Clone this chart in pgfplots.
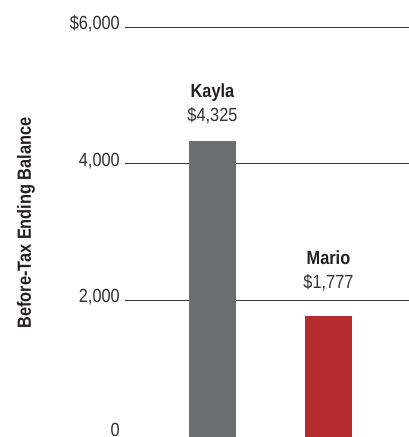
\documentclass[border=0pt]{standalone}
\usepackage{pgfplots}
\pgfplotsset{compat=1.18}
\usepackage{fontspec}
\setmainfont{Liberation Sans}[FakeStretch=0.86]
\definecolor{barGray}{HTML}{6D6E71}
\definecolor{barRed}{HTML}{B52B30}
\definecolor{txt}{HTML}{231F20}
\begin{document}
\begin{tikzpicture}
\begin{axis}[
  scale only axis, width=284pt, height=410pt,
  at={(0pt,0pt)}, anchor=south west,
  xmin=-0.754, xmax=1.694, ymin=0, ymax=6000,
  axis line style={draw=none},
  xtick=\empty,
  ytick={2000,4000,6000},
  yticklabels={{2,000},{4,000},{\$6,000}},
  extra y ticks={0}, extra y tick labels={0},
  extra y tick style={grid=none, yticklabel style={yshift=4pt}},
  ymajorgrids,
  major grid style={color=black!78, line width=0.9pt},
  major tick length=0pt,
  yticklabel style={font=\fontsize{19}{22}\selectfont, text=black!82, yshift=3pt, inner sep=5pt},
  ylabel={Before-Tax Ending Balance},
  ylabel style={font=\bfseries\fontsize{19}{22}\selectfont, text=txt, at={(axis description cs:-0.3486,0.522)}, anchor=center},
  ybar, bar width=47pt, bar shift=0pt,
  clip=false,
]
\addplot[ybar, bar shift=0pt, fill=barGray, draw=none,
  nodes near coords={\textbf{\color{txt}Kayla}\\\$4,325},
  every node near coord/.append style={align=center, anchor=south, inner sep=0pt, yshift=17pt, font=\fontsize{19}{24}\selectfont, text=black!80}]
  coordinates {(0,4325)};
\addplot[ybar, bar shift=0pt, fill=barRed, draw=none,
  nodes near coords={\textbf{\color{txt}Mario}\\\$1,777},
  every node near coord/.append style={align=center, anchor=south, inner sep=0pt, yshift=24pt, font=\fontsize{19}{24}\selectfont, text=black!80}]
  coordinates {(1,1777)};
\end{axis}
\pgfresetboundingbox
\useasboundingbox (-125pt,0pt) rectangle (284pt,437pt);
\end{tikzpicture}
\end{document}
